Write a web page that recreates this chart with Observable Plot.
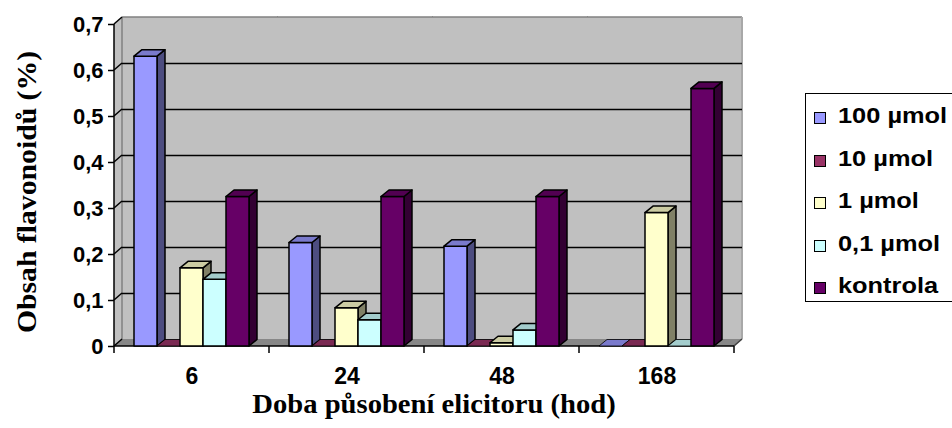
<!DOCTYPE html>
<html>
<head>
<meta charset="utf-8">
<script src="https://cdn.jsdelivr.net/npm/d3@7"></script>
<script src="https://cdn.jsdelivr.net/npm/@observablehq/plot@0.6"></script>
<style>
  body { margin: 0; background: #fff; overflow: hidden; }
  #chart { position: relative; width: 952px; height: 428px; overflow: hidden; }
  #chart > svg { position: absolute; left: 0; top: 0; }
  .axis-title {
    position: absolute; white-space: nowrap; line-height: 1;
    font-family: "Liberation Serif", "Times New Roman", serif;
    font-weight: bold; font-size: 27px; color: #000; transform-origin: 0 0;
  }
  .legend {
    position: absolute; left: 805px; top: 93px; width: 170px; height: 209px;
    border: 1.5px solid #000; box-sizing: border-box; background: #fff;
  }
  .legend .sw {
    position: absolute; left: 8px; width: 12px; height: 12px;
    border: 1.5px solid #000; box-sizing: border-box;
  }
  .legend .lb {
    position: absolute; left: 32px; white-space: nowrap; line-height: 1;
    font-family: "Liberation Sans", Arial, sans-serif; font-weight: bold;
    font-size: 21.5px; transform: scaleX(1.18); transform-origin: 0 0;
  }
</style>
</head>
<body>
<div id="chart"></div>
<script>
// Exposure time of the elicitor (hours) – one group of columns each
const hours = ["6", "24", "48", "168"];
// Elicitor concentrations plus the control
const series = ["100 µmol", "10 µmol", "1 µmol", "0,1 µmol", "kontrola"];
const colors = ["#9999ff", "#993366", "#ffffcc", "#ccffff", "#660066"];

// Flavonoid content (%) per concentration, in the order of `hours`
const v100 = [0.63, 0.225, 0.217, 0];
const v10 = [0, 0, 0, 0];
const v1 = [0.17, 0.083, 0.007, 0.29];
const v01 = [0.145, 0.057, 0.035, 0];
const vKontrola = [0.325, 0.325, 0.325, 0.56];

const yTicks = [0, 0.1, 0.2, 0.3, 0.4, 0.5, 0.6, 0.7];
const xTitle = "Doba působení elicitoru (hod)";
const yTitle = "Obsah flavonoidů (%)";

const seriesValues = [v100, v10, v1, v01, vKontrola];
const rows = series.flatMap((s, si) =>
  hours.map((h, hi) => ({hour: h, series: s, value: seriesValues[si][hi]}))
);

// Pseudo-3D depth offsets (walls and columns)
const DX = 8, DY = 7;
const BDX = 8, BDY = 6.5;
const yMax = yTicks[yTicks.length - 1];

const pts = (a) => a.map((p) => p.join(",")).join(" ");
const shade = (c, k) => {
  const r = d3.rgb(c);
  return d3.rgb(r.r * k, r.g * k, r.b * k).formatHex();
};
const facetOf = (I) => (I.length ? rows[I[0]].hour : null);

// Back wall, floor and side wall – one slice per time group
function chamber(I, scales, values, dims) {
  const g = d3.create("svg:g");
  const key = facetOf(I);
  if (key == null) return g.node();
  const first = key === hours[0], last = key === hours[hours.length - 1];
  const x0 = dims.marginLeft, x1 = dims.width - dims.marginRight;
  const yT = scales.y(yMax), y0 = scales.y(0);
  const ext = last ? 0 : 1;
  g.append("rect")
    .attr("x", x0 + DX).attr("y", yT - DY)
    .attr("width", x1 - x0 + ext).attr("height", y0 - yT)
    .attr("fill", "#c0c0c0");
  g.append("polygon")
    .attr("points", pts([[x0, y0], [x0 + DX, y0 - DY], [x1 + DX + ext, y0 - DY], [x1 + ext, y0]]))
    .attr("fill", "#878787");
  g.append("line")
    .attr("x1", x0 + DX).attr("x2", x1 + DX + ext).attr("y1", yT - DY).attr("y2", yT - DY)
    .attr("stroke", "#808080").attr("stroke-width", 1.5);
  if (first) {
    g.append("polygon")
      .attr("points", pts([[x0, yT], [x0 + DX, yT - DY], [x0 + DX, y0 - DY], [x0, y0]]))
      .attr("fill", "#c0c0c0");
    g.append("line")
      .attr("x1", x0 + DX).attr("x2", x0 + DX).attr("y1", yT - DY).attr("y2", y0 - DY)
      .attr("stroke", "#808080").attr("stroke-width", 1.5);
  }
  if (last) {
    g.append("line")
      .attr("x1", x1 + DX).attr("x2", x1 + DX).attr("y1", yT - DY).attr("y2", y0 - DY)
      .attr("stroke", "#a8a8a8").attr("stroke-width", 2);
    g.append("line")
      .attr("x1", x1).attr("x2", x1 + DX).attr("y1", y0).attr("y2", y0 - DY)
      .attr("stroke", "#404040").attr("stroke-width", 1.5);
  }
  return g.node();
}

// Front edge: value axis line, wall slants, group separators
function frontEdge(I, scales, values, dims) {
  const g = d3.create("svg:g").attr("stroke", "#000").attr("stroke-width", 1.5);
  const key = facetOf(I);
  if (key == null) return g.node();
  const first = key === hours[0];
  const x0 = dims.marginLeft, x1 = dims.width - dims.marginRight;
  const yT = scales.y(yMax), y0 = scales.y(0);
  if (first) {
    for (const t of yTicks) {
      const y = scales.y(t);
      g.append("line").attr("x1", x0).attr("x2", x0 + DX).attr("y1", y).attr("y2", y - DY);
    }
    g.append("line").attr("x1", x0).attr("x2", x0).attr("y1", yT).attr("y2", y0 + 7);
  }
  g.append("line").attr("x1", x0).attr("x2", x1).attr("y1", y0).attr("y2", y0);
  g.append("line").attr("x1", x1).attr("x2", x1).attr("y1", y0).attr("y2", y0 + 7);
  return g.node();
}

// Columns with a lit top and a shaded right side
function columns3d(I, scales, values) {
  const g = d3.create("svg:g")
    .attr("stroke", "#000").attr("stroke-width", 1.5).attr("stroke-linejoin", "round");
  const bw = scales.x.bandwidth();
  for (const i of I) {
    const x = values.x[i], yTop = values.y2[i], yBot = values.y1[i];
    const c = values.fill[i];
    const tall = yBot - yTop > 0.5;
    if (tall) {
      g.append("polygon")
        .attr("points", pts([[x + bw, yTop], [x + bw + BDX, yTop - BDY], [x + bw + BDX, yBot - BDY], [x + bw, yBot]]))
        .attr("fill", shade(c, 0.5));
      g.append("rect")
        .attr("x", x).attr("y", yTop).attr("width", bw).attr("height", yBot - yTop)
        .attr("fill", c);
    }
    g.append("polygon")
      .attr("points", pts([[x, yTop], [x + BDX, yTop - BDY], [x + bw + BDX, yTop - BDY], [x + bw, yTop]]))
      .attr("fill", shade(c, 0.8))
      .attr("stroke-width", tall ? 1.5 : 0.8);
  }
  return g.node();
}

const fmt = (d) => (d === 0 ? "0" : d.toFixed(1).replace(".", ","));
const barChannels = {fx: "hour", x: "series", y1: 0, y2: "value", fill: "series"};

const plot = Plot.plot({
  width: 952,
  height: 428,
  marginLeft: 114,
  marginRight: 218,
  marginTop: 24,
  marginBottom: 82,
  fx: {domain: hours, padding: 0, axis: null},
  x: {domain: series, paddingInner: 0, paddingOuter: 0.8, axis: null},
  y: {domain: [0, yMax], axis: null},
  color: {domain: series, range: colors},
  style: {fontFamily: "'Liberation Sans', Arial, sans-serif", fontWeight: "bold", background: "transparent", overflow: "visible", color: "#000"},
  marks: [
    Plot.barY(rows, {...barChannels, render: chamber}),
    Plot.ruleY(yTicks.filter((t) => t > 0 && t < yMax), {dx: DX, dy: -DY, stroke: "#000", strokeWidth: 1.5}),
    Plot.barY(rows, {...barChannels, render: frontEdge}),
    Plot.barY(rows, {...barChannels, render: columns3d}),
    Plot.axisY(yTicks, {tickSize: 6, tickPadding: 5, tickFormat: fmt, fontSize: 22, fontWeight: "bold", strokeWidth: 1.5, label: null}),
    Plot.axisFx({anchor: "bottom", tickSize: 0, tickPadding: 21, fontSize: 23, fontWeight: "bold", label: null})
  ]
});

const chart = document.getElementById("chart");
chart.append(plot);

// Axis titles
const xt = document.createElement("div");
xt.className = "axis-title";
xt.textContent = xTitle;
xt.style.left = "434px";
xt.style.top = "404px";
xt.style.transform = "scaleX(1.06) translate(-50%, -50%)";
chart.append(xt);

const yt = document.createElement("div");
yt.className = "axis-title";
yt.textContent = yTitle;
yt.style.left = "27px";
yt.style.top = "191.5px";
yt.style.transform = "rotate(-90deg) scaleX(1.1) translate(-50%, -50%)";
chart.append(yt);

// Legend
const legend = d3.select(chart).append("div").attr("class", "legend");
series.forEach((s, i) => {
  const base = 30.3 + i * 42.5;
  legend.append("div").attr("class", "sw")
    .style("top", `${base - 12}px`).style("background", colors[i]);
  legend.append("div").attr("class", "lb")
    .style("top", `${base - 18.2}px`).text(s);
});
</script>
</body>
</html>
